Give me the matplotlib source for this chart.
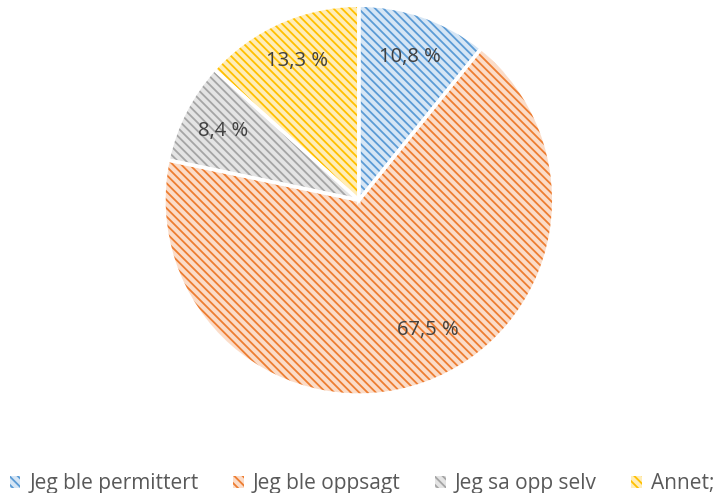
import matplotlib
matplotlib.use('Agg')
import matplotlib.pyplot as plt
from matplotlib.patches import Patch

labels = ['Jeg ble permittert', 'Jeg ble oppsagt', 'Jeg sa opp selv', 'Annet;']
values = [10.8, 67.5, 8.4, 13.3]
main_colors = ['#5B9BD5', '#ED7D31', '#A5A5A5', '#FFC000']
light_colors = ['#d6e6f5', '#fbdcc8', '#e4e4e4', '#ffedb8']

plt.rcParams['font.family'] = ['Open Sans', 'DejaVu Sans']
plt.rcParams['hatch.linewidth'] = 1.3

fig = plt.figure(figsize=(7.17, 4.93), dpi=100)
ax = fig.add_axes([0.230, 0.2005, 0.541, 0.787])

def fmt(p):
    return ('%.1f %%' % p).replace('.', ',')

wedges, texts, autotexts = ax.pie(values, colors=light_colors, startangle=90, counterclock=False,
                                  autopct=fmt, pctdistance=0.78,
                                  wedgeprops=dict(linewidth=0),
                                  textprops=dict(color='#404040', fontsize=14.5))
for w, c in zip(wedges, main_colors):
    w.set_hatch('\\\\\\\\')
    w.set_edgecolor(c)

# nudge the big label a bit, like the original
x, y = autotexts[1].get_position()
autotexts[1].set_position((x + 0.09, y + 0.07))

# white borders on top
ax.pie(values, colors=['none'] * 4, startangle=90, counterclock=False,
       wedgeprops=dict(linewidth=2.5, edgecolor='white'))
ax.set_aspect('equal')
ax.set_xlim(-0.995, 0.995)
ax.set_ylim(-0.995, 0.995)

handles = [Patch(facecolor=lc, edgecolor=c, hatch='\\\\\\\\', linewidth=0) for lc, c in zip(light_colors, main_colors)]
fig.legend(handles, labels, loc='lower center', ncol=4, frameon=False,
           bbox_to_anchor=(0.505, -0.04), fontsize=15, handlelength=0.5, handleheight=0.5,
           handletextpad=0.45, columnspacing=1.65, labelcolor='#595959')

fig.savefig('out.png', dpi=100)
